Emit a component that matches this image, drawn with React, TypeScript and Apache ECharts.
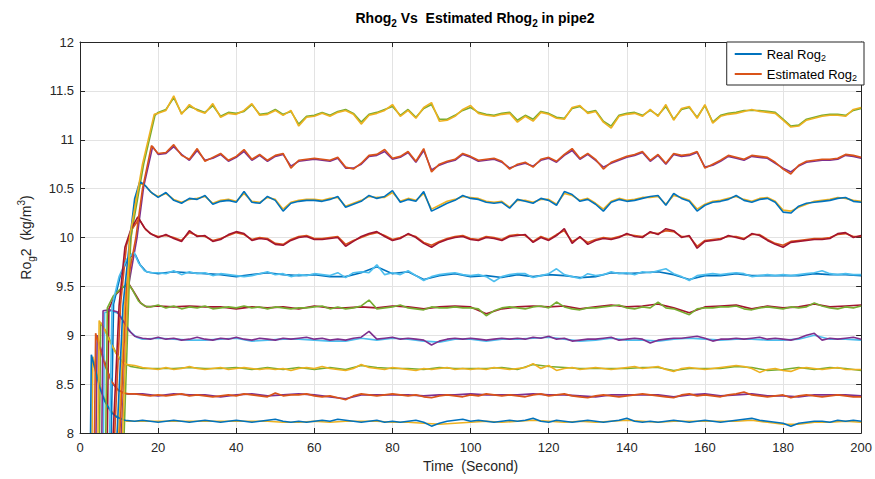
import { useEffect, useRef } from "react";
import * as echarts from "echarts";

// MATLAB default colour order
const BLUE = "#0072BD";
const ORANGE = "#D95319";
const YELLOW = "#EDB120";
const PURPLE = "#7E2F8E";
const GREEN = "#77AC30";
const LIGHTBLUE = "#4DBEEE";
const DARKRED = "#A2142F";

const xTicks = [0, 200, 20];
const yTicks = [8, 12, 0.5];

// ---------- Real Rog2: start-up [time, value] pairs + steady part (2 s steps) ----------
const realRise0 = [[2.7, 8], [2.9, 8.8], [3.8, 8.66], [5, 8.47], [6.4, 8.32], [8, 8.21], [9.5, 8.16], [11.5, 8.13]];
const realStart0 = 14;
const realLevel0 = [
  8.12, 8.13, 8.12, 8.11, 8.12, 8.13, 8.12, 8.11, 8.12, 8.13,
  8.12, 8.11, 8.12, 8.13, 8.12, 8.11, 8.12, 8.13, 8.14, 8.12,
  8.11, 8.12, 8.11, 8.12, 8.13, 8.12, 8.14, 8.13, 8.12, 8.11,
  8.12, 8.13, 8.11, 8.12, 8.11, 8.12, 8.13, 8.11, 8.07, 8.10,
  8.12, 8.13, 8.14, 8.12, 8.13, 8.12, 8.11, 8.12, 8.13, 8.12,
  8.13, 8.15, 8.12, 8.11, 8.13, 8.12, 8.11, 8.12, 8.13, 8.12,
  8.11, 8.12, 8.13, 8.15, 8.12, 8.11, 8.12, 8.11, 8.12, 8.13,
  8.12, 8.11, 8.12, 8.13, 8.12, 8.11, 8.12, 8.13, 8.14, 8.15,
  8.13, 8.12, 8.11, 8.10, 8.07, 8.10, 8.11, 8.12, 8.12, 8.11,
  8.13, 8.12, 8.13, 8.12,
];

const realRise1 = [[3.7, 8], [4.0, 9.02], [5, 8.88], [6.5, 8.68], [8, 8.53], [9.5, 8.45], [11, 8.41], [12.5, 8.4]];
const realStart1 = 14;
const realLevel1 = [
  8.40, 8.39, 8.38, 8.39, 8.38, 8.39, 8.40, 8.38, 8.39, 8.38,
  8.37, 8.38, 8.39, 8.38, 8.40, 8.39, 8.38, 8.37, 8.41, 8.38,
  8.39, 8.39, 8.40, 8.38, 8.37, 8.38, 8.36, 8.34, 8.38, 8.40,
  8.39, 8.38, 8.39, 8.40, 8.39, 8.38, 8.39, 8.37, 8.36, 8.38,
  8.39, 8.38, 8.37, 8.39, 8.38, 8.40, 8.39, 8.38, 8.39, 8.38,
  8.37, 8.39, 8.40, 8.38, 8.39, 8.40, 8.38, 8.37, 8.36, 8.38,
  8.39, 8.38, 8.37, 8.38, 8.39, 8.40, 8.39, 8.38, 8.37, 8.36,
  8.39, 8.40, 8.38, 8.39, 8.38, 8.37, 8.39, 8.40, 8.42, 8.39,
  8.38, 8.37, 8.38, 8.39, 8.36, 8.38, 8.39, 8.38, 8.37, 8.38,
  8.39, 8.38, 8.37, 8.37,
];

const realRise2 = [[4.6, 8], [4.9, 9.15], [6, 9.08], [7.5, 8.95], [9, 8.83], [10.5, 8.74], [12, 8.7]];
const realStart2 = 14;
const realLevel2 = [
  8.69, 8.67, 8.66, 8.65, 8.67, 8.65, 8.66, 8.68, 8.66, 8.65,
  8.66, 8.67, 8.65, 8.66, 8.67, 8.66, 8.65, 8.66, 8.65, 8.66,
  8.64, 8.66, 8.67, 8.66, 8.68, 8.66, 8.65, 8.64, 8.66, 8.70,
  8.67, 8.66, 8.65, 8.67, 8.66, 8.65, 8.64, 8.66, 8.65, 8.66,
  8.67, 8.65, 8.66, 8.65, 8.66, 8.65, 8.67, 8.66, 8.65, 8.66,
  8.67, 8.71, 8.66, 8.69, 8.64, 8.66, 8.67, 8.65, 8.66, 8.67,
  8.66, 8.65, 8.66, 8.67, 8.68, 8.66, 8.67, 8.68, 8.65, 8.63,
  8.66, 8.67, 8.66, 8.65, 8.66, 8.67, 8.68, 8.69, 8.68, 8.66,
  8.62, 8.65, 8.66, 8.64, 8.63, 8.66, 8.67, 8.66, 8.65, 8.66,
  8.67, 8.65, 8.65, 8.65,
];

const realRise3 = [[5.6, 8], [5.9, 9.25], [7.5, 9.26], [9.5, 9.24], [11, 9.15], [12.5, 9.05], [14, 8.99]];
const realStart3 = 16;
const realLevel3 = [
  8.97, 8.96, 8.98, 8.96, 8.97, 8.95, 8.96, 8.98, 8.96, 8.95,
  8.97, 8.96, 8.98, 8.96, 8.95, 8.97, 8.96, 8.95, 8.97, 8.96,
  8.97, 8.98, 8.96, 8.97, 8.95, 8.96, 8.95, 8.97, 8.98, 9.04,
  8.96, 8.97, 8.98, 8.96, 8.97, 8.96, 8.95, 8.90, 8.94, 8.96,
  8.97, 8.96, 8.97, 8.96, 8.95, 8.96, 8.97, 8.96, 8.97, 8.96,
  8.98, 8.97, 8.99, 8.96, 8.97, 8.94, 8.95, 8.96, 8.96, 8.97,
  8.98, 8.95, 8.96, 8.97, 8.96, 8.92, 8.95, 8.96, 8.97, 8.97,
  8.98, 8.99, 8.97, 8.94, 8.96, 8.96, 8.97, 8.96, 8.97, 8.98,
  8.96, 8.97, 8.96, 8.95, 8.97, 9.00, 9.02, 8.95, 8.97, 8.96,
  8.97, 8.98, 8.96,
];

const realRise4 = [[6.6, 8], [7.0, 9.28], [8.5, 9.4], [10.5, 9.48], [12.3, 9.53], [13.5, 9.46], [15, 9.35], [16.5, 9.3]];
const realStart4 = 18;
const realLevel4 = [
  9.29, 9.31, 9.28, 9.30, 9.27, 9.29, 9.28, 9.30, 9.27, 9.28,
  9.29, 9.28, 9.30, 9.28, 9.29, 9.27, 9.29, 9.28, 9.27, 9.28,
  9.28, 9.29, 9.30, 9.27, 9.29, 9.27, 9.28, 9.30, 9.36, 9.27,
  9.28, 9.29, 9.31, 9.28, 9.27, 9.26, 9.29, 9.28, 9.28, 9.29,
  9.28, 9.28, 9.27, 9.20, 9.25, 9.28, 9.29, 9.28, 9.27, 9.29,
  9.30, 9.28, 9.34, 9.29, 9.27, 9.26, 9.28, 9.28, 9.29, 9.30,
  9.31, 9.28, 9.27, 9.29, 9.28, 9.34, 9.28, 9.27, 9.24, 9.21,
  9.27, 9.28, 9.28, 9.29, 9.29, 9.30, 9.27, 9.26, 9.28, 9.29,
  9.28, 9.27, 9.29, 9.28, 9.29, 9.33, 9.30, 9.28, 9.27, 9.29,
  9.28, 9.30,
];

const realRise5 = [[7.6, 8], [8.2, 9.3], [10, 9.6], [12, 9.78], [13.8, 9.85], [15, 9.74], [16.5, 9.66], [18, 9.64]];
const realStart5 = 20;
const realLevel5 = [
  9.64, 9.63, 9.66, 9.62, 9.65, 9.63, 9.64, 9.61, 9.63, 9.62,
  9.61, 9.60, 9.61, 9.63, 9.65, 9.62, 9.63, 9.60, 9.62, 9.61,
  9.63, 9.62, 9.61, 9.64, 9.59, 9.64, 9.65, 9.64, 9.72, 9.62,
  9.64, 9.62, 9.66, 9.61, 9.56, 9.60, 9.62, 9.63, 9.64, 9.62,
  9.61, 9.62, 9.60, 9.55, 9.60, 9.62, 9.63, 9.63, 9.59, 9.61,
  9.63, 9.68, 9.62, 9.60, 9.58, 9.63, 9.61, 9.62, 9.65, 9.63,
  9.64, 9.62, 9.65, 9.64, 9.66, 9.68, 9.63, 9.60, 9.56, 9.61,
  9.62, 9.63, 9.62, 9.63, 9.64, 9.63, 9.60, 9.61, 9.62, 9.61,
  9.62, 9.61, 9.62, 9.63, 9.64, 9.66, 9.63, 9.62, 9.63, 9.62,
  9.62,
];

const realRise6 = [[8.5, 8], [10, 9.3], [11.5, 9.9], [13, 10.08], [14.8, 10.21], [16.5, 10.1], [18, 10.04]];
const realStart6 = 20;
const realLevel6 = [
  10.00, 10.03, 9.99, 9.96, 10.07, 10.01, 10.02, 9.96, 9.98, 10.03,
  10.06, 10.04, 9.97, 9.99, 9.98, 9.93, 9.92, 9.97, 10.00, 10.01,
  9.98, 9.98, 9.99, 10.00, 9.91, 9.96, 10.01, 10.04, 10.06, 10.01,
  9.97, 9.99, 10.04, 10.00, 9.94, 9.90, 9.95, 9.98, 10.00, 10.01,
  9.98, 9.97, 10.00, 9.99, 9.97, 10.01, 10.02, 10.03, 9.95, 10.00,
  9.97, 10.02, 10.09, 9.94, 10.01, 9.93, 9.97, 9.99, 9.98, 10.00,
  10.04, 10.01, 10.00, 10.06, 10.03, 10.09, 10.07, 10.00, 10.02, 9.89,
  9.96, 9.97, 9.98, 10.02, 10.00, 9.98, 10.04, 10.02, 9.97, 9.93,
  9.90, 9.95, 9.96, 9.97, 9.98, 9.98, 9.99, 10.04, 10.05, 10.00,
  10.02,
];

const realRise7 = [[9.5, 8], [11, 9.3], [12.8, 10.0], [14, 10.4], [15.3, 10.57], [16.5, 10.54], [18, 10.47]];
const realStart7 = 20;
const realLevel7 = [
  10.41, 10.46, 10.38, 10.35, 10.40, 10.39, 10.43, 10.34, 10.37, 10.38,
  10.36, 10.47, 10.36, 10.35, 10.42, 10.38, 10.27, 10.35, 10.37, 10.38,
  10.38, 10.37, 10.39, 10.42, 10.31, 10.34, 10.37, 10.43, 10.40, 10.42,
  10.48, 10.36, 10.39, 10.37, 10.47, 10.27, 10.31, 10.35, 10.38, 10.43,
  10.40, 10.39, 10.36, 10.35, 10.36, 10.30, 10.39, 10.37, 10.35, 10.40,
  10.38, 10.33, 10.47, 10.44, 10.37, 10.39, 10.34, 10.27, 10.36, 10.39,
  10.37, 10.38, 10.40, 10.42, 10.43, 10.33, 10.45, 10.40, 10.37, 10.27,
  10.33, 10.36, 10.37, 10.39, 10.43, 10.38, 10.36, 10.39, 10.40, 10.36,
  10.26, 10.25, 10.32, 10.35, 10.36, 10.37, 10.38, 10.40, 10.41, 10.37,
  10.36,
];

const realRise8 = [[10.2, 8], [12, 9.5], [14.3, 10.0], [16, 10.5], [18.3, 10.94]];
const realStart8 = 20;
const realLevel8 = [
  10.86, 10.87, 10.95, 10.84, 10.80, 10.91, 10.78, 10.82, 10.86, 10.79,
  10.83, 10.90, 10.80, 10.85, 10.79, 10.84, 10.86, 10.71, 10.79, 10.80,
  10.81, 10.80, 10.79, 10.82, 10.72, 10.70, 10.76, 10.84, 10.85, 10.90,
  10.81, 10.83, 10.88, 10.78, 10.91, 10.67, 10.75, 10.78, 10.80, 10.86,
  10.83, 10.79, 10.80, 10.81, 10.78, 10.70, 10.75, 10.77, 10.72, 10.80,
  10.82, 10.78, 10.85, 10.91, 10.81, 10.86, 10.80, 10.70, 10.77, 10.80,
  10.83, 10.85, 10.88, 10.79, 10.85, 10.76, 10.86, 10.84, 10.85, 10.88,
  10.71, 10.75, 10.79, 10.84, 10.82, 10.80, 10.84, 10.83, 10.82, 10.77,
  10.70, 10.65, 10.74, 10.78, 10.79, 10.80, 10.80, 10.81, 10.85, 10.84,
  10.82,
];

const realRise9 = [[10.9, 8], [12.7, 10.0], [16, 10.75], [19, 11.26]];
const realStart9 = 20;
const realLevel9 = [
  11.27, 11.30, 11.45, 11.26, 11.36, 11.30, 11.27, 11.37, 11.23, 11.27,
  11.26, 11.30, 11.37, 11.25, 11.26, 11.30, 11.25, 11.30, 11.14, 11.23,
  11.24, 11.27, 11.24, 11.28, 11.30, 11.26, 11.16, 11.25, 11.27, 11.30,
  11.36, 11.24, 11.30, 11.22, 11.33, 11.38, 11.19, 11.20, 11.24, 11.31,
  11.35, 11.27, 11.25, 11.24, 11.26, 11.27, 11.18, 11.24, 11.19, 11.28,
  11.26, 11.22, 11.21, 11.33, 11.35, 11.27, 11.29, 11.18, 11.12, 11.24,
  11.26, 11.27, 11.24, 11.31, 11.24, 11.36, 11.20, 11.32, 11.34, 11.22,
  11.36, 11.17, 11.24, 11.26, 11.27, 11.29, 11.31, 11.29, 11.28, 11.27,
  11.20, 11.13, 11.14, 11.20, 11.22, 11.24, 11.25, 11.25, 11.24, 11.31,
  11.33,
];

// ---------- Estimated Rog2: start-up pairs + steady part ----------
const estRise0 = [[3.1, 8], [3.3, 8.78], [4.2, 8.62], [5.5, 8.43], [7, 8.28], [9, 8.18], [12, 8.12]];
const estStart0 = 16; // 4 s steps
const estLevel0 = [
  8.12, 8.12, 8.12, 8.12, 8.12, 8.12, 8.12, 8.12, 8.12, 8.11,
  8.11, 8.12, 8.11, 8.12, 8.12, 8.12, 8.11, 8.11, 8.10, 8.09,
  8.10, 8.11, 8.12, 8.11, 8.12, 8.13, 8.12, 8.11, 8.12, 8.11,
  8.12, 8.13, 8.12, 8.11, 8.12, 8.12, 8.12, 8.12, 8.12, 8.13,
  8.11, 8.09, 8.09, 8.11, 8.11, 8.12, 8.11,
];

const estRise1 = [[4.1, 8], [4.4, 9.0], [5.5, 8.84], [7, 8.64], [8.5, 8.5], [10, 8.43], [12, 8.4]];
const estStart1 = 16; // 4 s steps
const estLevel1 = [
  8.40, 8.38, 8.40, 8.39, 8.39, 8.37, 8.39, 8.40, 8.38, 8.39,
  8.40, 8.39, 8.37, 8.35, 8.39, 8.39, 8.39, 8.39, 8.38, 8.39,
  8.39, 8.40, 8.39, 8.39, 8.39, 8.40, 8.39, 8.39, 8.38, 8.37,
  8.39, 8.39, 8.39, 8.39, 8.37, 8.39, 8.40, 8.38, 8.39, 8.40,
  8.38, 8.38, 8.37, 8.39, 8.39, 8.39, 8.38,
];

const estRise2 = [[5.0, 8], [5.3, 9.13], [6.5, 9.05], [8, 8.92], [9.5, 8.8], [11, 8.72], [13, 8.68]];
const estStart2 = 16; // 4 s steps
const estLevel2 = [
  8.66, 8.66, 8.66, 8.67, 8.66, 8.66, 8.67, 8.65, 8.67, 8.65,
  8.67, 8.65, 8.67, 8.65, 8.69, 8.67, 8.66, 8.66, 8.65, 8.67,
  8.66, 8.66, 8.66, 8.67, 8.65, 8.70, 8.68, 8.67, 8.66, 8.66,
  8.66, 8.66, 8.67, 8.67, 8.64, 8.66, 8.66, 8.66, 8.68, 8.67,
  8.64, 8.65, 8.67, 8.65, 8.67, 8.66, 8.64,
];

const estRise3 = [[6.0, 8], [6.3, 9.23], [8, 9.25], [10, 9.22], [11.5, 9.12], [13, 9.03], [14.5, 8.98]];
const estStart3 = 16; // 4 s steps
const estLevel3 = [
  8.96, 8.97, 8.96, 8.95, 8.95, 8.96, 8.97, 8.94, 8.95, 8.96,
  8.96, 8.95, 8.94, 8.94, 8.97, 8.95, 8.97, 8.96, 8.94, 8.93,
  8.96, 8.96, 8.94, 8.96, 8.96, 8.97, 8.98, 8.96, 8.94, 8.95,
  8.97, 8.95, 8.95, 8.94, 8.96, 8.97, 8.96, 8.95, 8.96, 8.96,
  8.95, 8.95, 8.96, 9.00, 8.96, 8.96, 8.95,
];

const estRise4 = [[7.0, 8], [7.4, 9.27], [9, 9.41], [11, 9.49], [12.6, 9.52], [14, 9.43], [15.5, 9.33], [17, 9.29]];
const estStart4 = 20; // 4 s steps
const estLevel4 = [
  9.30, 9.29, 9.30, 9.29, 9.29, 9.27, 9.29, 9.28, 9.29, 9.27,
  9.30, 9.28, 9.28, 9.29, 9.28, 9.30, 9.29, 9.27, 9.29, 9.30,
  9.29, 9.22, 9.27, 9.29, 9.30, 9.29, 9.30, 9.27, 9.29, 9.31,
  9.29, 9.30, 9.32, 9.28, 9.23, 9.29, 9.30, 9.31, 9.27, 9.30,
  9.28, 9.29, 9.32, 9.29, 9.30, 9.31,
];

const estRise5 = [[8.0, 8], [8.6, 9.32], [10.4, 9.62], [12.4, 9.79], [14.1, 9.83], [15.4, 9.72], [17, 9.65]];
const estStart5 = 20; // 4 s steps
const estLevel5 = [
  9.63, 9.65, 9.64, 9.63, 9.62, 9.60, 9.62, 9.64, 9.62, 9.61,
  9.62, 9.60, 9.60, 9.64, 9.70, 9.63, 9.65, 9.57, 9.61, 9.63,
  9.60, 9.61, 9.59, 9.62, 9.60, 9.62, 9.61, 9.59, 9.60, 9.64,
  9.63, 9.64, 9.65, 9.62, 9.57, 9.61, 9.61, 9.63, 9.61, 9.61,
  9.61, 9.61, 9.63, 9.62, 9.62, 9.61,
];

const estRise6 = [[8.9, 8], [10.4, 9.32], [11.9, 9.92], [13.4, 10.09], [15.1, 10.19], [16.8, 10.08], [18.5, 10.03]];
const estStart6 = 20; // 2 s steps
const estLevel6 = [
  10.01, 10.02, 10.00, 9.97, 10.05, 10.02, 10.01, 9.97, 9.99, 10.02,
  10.05, 10.03, 9.98, 10.00, 9.99, 9.94, 9.93, 9.98, 10.01, 10.02,
  9.99, 9.99, 10.00, 10.01, 9.93, 9.97, 10.00, 10.03, 10.05, 10.02,
  9.98, 10.00, 10.03, 10.01, 9.95, 9.92, 9.96, 9.99, 10.01, 10.02,
  9.99, 9.98, 10.01, 10.00, 9.98, 10.02, 10.03, 10.02, 9.96, 10.01,
  9.98, 10.03, 10.07, 9.96, 10.00, 9.95, 9.98, 10.00, 9.99, 10.01,
  10.03, 10.02, 10.01, 10.05, 10.04, 10.07, 10.06, 10.01, 10.01, 9.91,
  9.97, 9.98, 9.99, 10.01, 10.01, 9.99, 10.03, 10.03, 9.98, 9.94,
  9.92, 9.96, 9.97, 9.98, 9.99, 9.99, 10.00, 10.03, 10.04, 10.01,
  10.01,
];

const estRise7 = [[9.9, 8], [11.4, 9.3], [13.1, 10.0], [14.3, 10.42], [15.6, 10.56], [17, 10.52], [18.5, 10.45]];
const estStart7 = 20; // 2 s steps
const estLevel7 = [
  10.42, 10.45, 10.39, 10.36, 10.39, 10.40, 10.42, 10.35, 10.38, 10.39,
  10.37, 10.45, 10.37, 10.36, 10.41, 10.39, 10.29, 10.36, 10.38, 10.39,
  10.39, 10.38, 10.40, 10.41, 10.32, 10.35, 10.38, 10.42, 10.41, 10.41,
  10.46, 10.37, 10.40, 10.38, 10.45, 10.29, 10.33, 10.37, 10.39, 10.42,
  10.41, 10.40, 10.37, 10.36, 10.37, 10.31, 10.38, 10.38, 10.36, 10.39,
  10.39, 10.34, 10.45, 10.43, 10.38, 10.40, 10.35, 10.29, 10.37, 10.40,
  10.38, 10.39, 10.41, 10.41, 10.42, 10.34, 10.43, 10.41, 10.38, 10.29,
  10.34, 10.37, 10.38, 10.40, 10.42, 10.39, 10.37, 10.40, 10.41, 10.37,
  10.28, 10.27, 10.31, 10.34, 10.37, 10.38, 10.39, 10.41, 10.40, 10.38,
  10.37,
];

const estRise8 = [[10.6, 8], [12.4, 9.5], [14.6, 10.0], [16.3, 10.52], [18.6, 10.93]];
const estStart8 = 20; // 2 s steps
const estLevel8 = [
  10.85, 10.86, 10.93, 10.85, 10.79, 10.89, 10.79, 10.81, 10.85, 10.78,
  10.82, 10.88, 10.79, 10.84, 10.78, 10.83, 10.85, 10.73, 10.78, 10.79,
  10.80, 10.79, 10.78, 10.81, 10.71, 10.71, 10.75, 10.83, 10.84, 10.88,
  10.80, 10.82, 10.87, 10.77, 10.89, 10.69, 10.74, 10.77, 10.79, 10.85,
  10.82, 10.78, 10.79, 10.80, 10.77, 10.71, 10.74, 10.76, 10.73, 10.79,
  10.81, 10.77, 10.84, 10.89, 10.80, 10.85, 10.79, 10.72, 10.76, 10.79,
  10.82, 10.84, 10.87, 10.78, 10.84, 10.75, 10.85, 10.83, 10.84, 10.87,
  10.72, 10.74, 10.78, 10.83, 10.81, 10.79, 10.83, 10.82, 10.81, 10.76,
  10.71, 10.67, 10.73, 10.77, 10.78, 10.79, 10.79, 10.80, 10.84, 10.83,
  10.81,
];

const estRise9 = [[11.3, 8], [13.0, 10.0], [16.3, 10.75], [19.2, 11.25]];
const estStart9 = 20; // 2 s steps
const estLevel9 = [
  11.28, 11.31, 11.43, 11.27, 11.34, 11.31, 11.28, 11.35, 11.24, 11.28,
  11.27, 11.29, 11.36, 11.26, 11.27, 11.31, 11.26, 11.29, 11.16, 11.24,
  11.25, 11.28, 11.25, 11.29, 11.31, 11.27, 11.18, 11.26, 11.28, 11.31,
  11.34, 11.25, 11.31, 11.23, 11.32, 11.36, 11.21, 11.21, 11.25, 11.30,
  11.33, 11.28, 11.26, 11.25, 11.27, 11.28, 11.20, 11.25, 11.21, 11.29,
  11.27, 11.23, 11.22, 11.32, 11.34, 11.28, 11.30, 11.19, 11.14, 11.25,
  11.27, 11.28, 11.25, 11.30, 11.25, 11.34, 11.21, 11.31, 11.33, 11.23,
  11.35, 11.18, 11.25, 11.27, 11.28, 11.30, 11.30, 11.30, 11.29, 11.28,
  11.21, 11.14, 11.15, 11.21, 11.23, 11.25, 11.26, 11.26, 11.25, 11.30,
  11.32,
];

const REAL_NAME = "Real Rog2";
const EST_NAME = "Estimated Rog2";

const realSets = [
  [realRise0, realStart0, 2, realLevel0, BLUE],
  [realRise1, realStart1, 2, realLevel1, ORANGE],
  [realRise2, realStart2, 2, realLevel2, YELLOW],
  [realRise3, realStart3, 2, realLevel3, PURPLE],
  [realRise4, realStart4, 2, realLevel4, GREEN],
  [realRise5, realStart5, 2, realLevel5, LIGHTBLUE],
  [realRise6, realStart6, 2, realLevel6, DARKRED],
  [realRise7, realStart7, 2, realLevel7, BLUE],
  [realRise8, realStart8, 2, realLevel8, ORANGE],
  [realRise9, realStart9, 2, realLevel9, YELLOW],
] as any[];

const estSets = [
  [estRise0, estStart0, 4, estLevel0, YELLOW],
  [estRise1, estStart1, 4, estLevel1, PURPLE],
  [estRise2, estStart2, 4, estLevel2, GREEN],
  [estRise3, estStart3, 4, estLevel3, LIGHTBLUE],
  [estRise4, estStart4, 4, estLevel4, DARKRED],
  [estRise5, estStart5, 4, estLevel5, BLUE],
  [estRise6, estStart6, 2, estLevel6, ORANGE],
  [estRise7, estStart7, 2, estLevel7, YELLOW],
  [estRise8, estStart8, 2, estLevel8, PURPLE],
  [estRise9, estStart9, 2, estLevel9, GREEN],
] as any[];

const FONT = "'Liberation Sans', Arial, Helvetica, sans-serif";
const AXIS_COLOR = "#262626";

function buildSeries(sets: any[], name: string) {
  return sets.map(([rise, start, step, vals, color]) => ({
    type: "line",
    name,
    data: (rise as number[][]).concat((vals as number[]).map((v, i) => [start + step * i, v])),
    showSymbol: false,
    symbol: "none",
    color,
    lineStyle: { color, width: 1.6 },
    emphasis: { disabled: true },
    silent: true,
    xAxisIndex: 0,
    yAxisIndex: 0,
  }));
}

export default function App() {
  const ref = useRef<HTMLDivElement>(null);
  useEffect(() => {
    if (!ref.current) return;
    const chart = echarts.init(ref.current, null, { renderer: "svg" });
    const sub = { fontSize: 9, lineHeight: 9, verticalAlign: "bottom", fontFamily: FONT };
    chart.setOption({
      animation: false,
      backgroundColor: "#ffffff",
      title: {
        text: "Rhog{s|2} Vs  Estimated Rhog{s|2} in pipe2",
        left: 470,
        textAlign: "center",
        top: 3,
        textStyle: {
          fontFamily: FONT,
          fontSize: 14,
          fontWeight: "bold",
          color: "#000",
          lineHeight: 20,
          rich: { s: { ...sub, fontWeight: "bold", fontSize: 10, lineHeight: 11 } },
        },
      },
      legend: {
        orient: "vertical",
        right: 11,
        top: 42,
        data: [
          { name: REAL_NAME, itemStyle: { color: BLUE } },
          { name: EST_NAME, itemStyle: { color: ORANGE } },
        ],
        icon: "rect",
        itemWidth: 27,
        itemHeight: 2,
        itemGap: 4,
        padding: [4, 7, 3, 8],
        backgroundColor: "#ffffff",
        borderColor: AXIS_COLOR,
        borderWidth: 1,
        borderRadius: 0,
        selectedMode: false,
        formatter: (n: string) => n.replace(/2$/, "{s|2}"),
        textStyle: {
          fontFamily: FONT,
          fontSize: 13,
          color: "#000",
          lineHeight: 16,
          rich: { s: { ...sub, fontSize: 9, lineHeight: 9 } },
        },
      },
      grid: { left: 80, right: 13, top: 42, bottom: 46, containLabel: false },
      xAxis: [
        {
          type: "value",
          min: xTicks[0],
          max: xTicks[1],
          interval: xTicks[2],
          name: "Time  (Second)",
          nameLocation: "middle",
          nameGap: 25,
          nameTextStyle: { fontFamily: FONT, fontSize: 14, color: AXIS_COLOR },
          axisLine: { show: true, onZero: false, lineStyle: { color: AXIS_COLOR, width: 1 } },
          axisTick: { show: true, inside: true, length: 5, lineStyle: { color: AXIS_COLOR } },
          axisLabel: { fontFamily: FONT, fontSize: 13, color: AXIS_COLOR, margin: 8 },
          splitLine: { show: true, lineStyle: { color: "#e3e3e3", width: 1 } },
        },
        {
          type: "value",
          position: "top",
          min: xTicks[0],
          max: xTicks[1],
          interval: xTicks[2],
          axisLine: { show: true, onZero: false, lineStyle: { color: AXIS_COLOR, width: 1 } },
          axisTick: { show: true, inside: true, length: 5, lineStyle: { color: AXIS_COLOR } },
          axisLabel: { show: false },
          splitLine: { show: false },
        },
      ],
      yAxis: [
        {
          type: "value",
          min: yTicks[0],
          max: yTicks[1],
          interval: yTicks[2],
          name: "Ro{s|g}2  (kg/m{p|3})",
          nameLocation: "middle",
          nameGap: 44,
          nameTextStyle: {
            fontFamily: FONT,
            fontSize: 14,
            color: AXIS_COLOR,
            lineHeight: 20,
            rich: {
              s: { ...sub, fontSize: 10, lineHeight: 10, verticalAlign: "bottom" },
              p: { fontFamily: FONT, fontSize: 10, lineHeight: 10, verticalAlign: "top" },
            },
          },
          axisLine: { show: true, onZero: false, lineStyle: { color: AXIS_COLOR, width: 1 } },
          axisTick: { show: true, inside: true, length: 5, lineStyle: { color: AXIS_COLOR } },
          axisLabel: { fontFamily: FONT, fontSize: 13, color: AXIS_COLOR, margin: 6 },
          splitLine: { show: true, lineStyle: { color: "#e3e3e3", width: 1 } },
        },
        {
          type: "value",
          position: "right",
          min: yTicks[0],
          max: yTicks[1],
          interval: yTicks[2],
          axisLine: { show: true, onZero: false, lineStyle: { color: AXIS_COLOR, width: 1 } },
          axisTick: { show: true, inside: true, length: 5, lineStyle: { color: AXIS_COLOR } },
          axisLabel: { show: false },
          splitLine: { show: false },
        },
      ],
      series: [...buildSeries(estSets, EST_NAME), ...buildSeries(realSets, REAL_NAME)],
    });
    return () => chart.dispose();
  }, []);
  return (
    <div
      ref={ref}
      style={{ position: "fixed", left: 0, top: 0, width: 875, height: 479, background: "#fff" }}
    />
  );
}
